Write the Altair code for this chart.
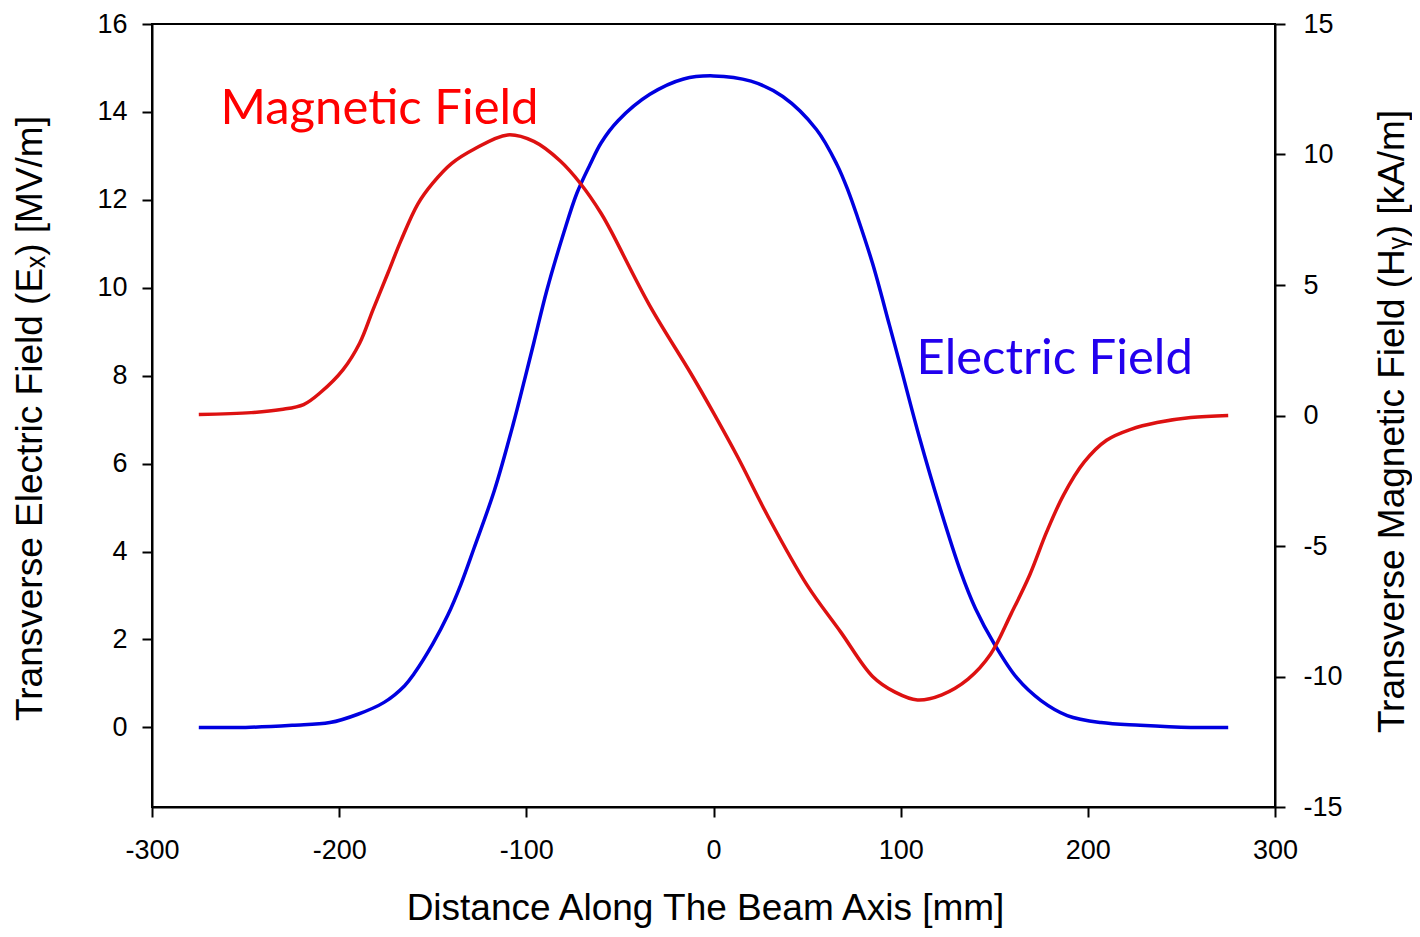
import altair as alt
import pandas as pd

# Electric field (left axis, MV/m)
e_x = [-275, -250, -225, -205, -190, -176, -165, -160, -150, -142, -135, -128, -117, -107, -101, -96,
       -89, -80, -73, -66, -60, -51, -34, -16, 0, 20, 37, 55, 66, 72, 77, 85, 94, 100, 110, 121, 132,
       140, 150, 162, 175, 189, 207, 228, 255, 275]
e_v = [0.0, 0.0, 0.05, 0.11, 0.3, 0.57, 0.95, 1.22, 1.9, 2.55, 3.25, 4.07, 5.4, 6.9, 7.9, 8.75,
       9.95, 11.25, 12.15, 12.8, 13.3, 13.8, 14.4, 14.75, 14.82, 14.7, 14.35, 13.6, 12.8, 12.2, 11.6,
       10.55, 9.15, 8.2, 6.6, 5.0, 3.55, 2.7, 1.9, 1.13, 0.61, 0.27, 0.11, 0.05, 0.0, 0.0]

# Magnetic field (right axis, kA/m)
h_x = [-275, -247, -231, -219, -210, -198, -189, -182, -174, -167, -158, -150, -140, -128, -110,
       -96, -82, -71, -60, -55, -34, -12, 0, 13, 29, 50, 68, 85, 97, 109, 122, 136, 148, 159,
       169, 178, 187, 198, 210, 223, 237, 255, 275]
h_v = [0.04, 0.11, 0.23, 0.42, 0.88, 1.75, 2.78, 4.04, 5.45, 6.7, 8.1, 8.9, 9.65, 10.2, 10.75,
       10.5, 9.76, 8.88, 7.74, 7.1, 4.2, 1.6, 0.1, -1.6, -3.85, -6.5, -8.3, -10.0, -10.6, -10.9,
       -10.7, -10.1, -9.15, -7.6, -6.1, -4.46, -3.05, -1.79, -0.95, -0.53, -0.27, -0.08, 0.0]

x_ticks = [-300, -200, -100, 0, 100, 200, 300]
e_ticks = [0, 2, 4, 6, 8, 10, 12, 14, 16]
h_ticks = [-15, -10, -5, 0, 5, 10, 15]

labels_text = ["Electric Field", "Magnetic Field"]
labels_x = [108.5, -263.4]
labels_e = [8.03]
labels_h = [11.17]

e_df = pd.DataFrame({"x": e_x, "v": e_v})
h_df = pd.DataFrame({"x": h_x, "v": h_v})
e_lab = pd.DataFrame({"x": [labels_x[0]], "v": labels_e, "t": [labels_text[0]]})
h_lab = pd.DataFrame({"x": [labels_x[1]], "v": labels_h, "t": [labels_text[1]]})

AXF = "Liberation Sans"
LBL = "'' + datum.value"

x_enc = alt.X("x:Q", scale=alt.Scale(domain=[-300, 300], nice=False, zero=False),
              axis=alt.Axis(values=x_ticks, title="Distance Along The Beam Axis [mm]",
                            labelPadding=20, titleY=112, titleBaseline="alphabetic",
                            titleX=553, labelExpr=LBL, labelFlush=False))

e_scale = alt.Scale(domain=[-1.81, 16], nice=False, zero=False)
h_scale = alt.Scale(domain=[-15, 15], nice=False, zero=False)

e_line = alt.Chart(e_df).mark_line(color="#0000E0", strokeWidth=3.5, interpolate="catmull-rom").encode(
    x=x_enc,
    y=alt.Y("v:Q", scale=e_scale,
            axis=alt.Axis(orient="left", values=e_ticks,
                          title="Transverse Electric Field (Eₓ) [MV/m]",
                          labelPadding=15, titleX=-122, titleY=394, titleAngle=270,
                          titleBaseline="middle", labelExpr=LBL, labelFlush=False)),
)
e_text = alt.Chart(e_lab).mark_text(align="left", baseline="alphabetic", font="Lato",
                                    fontSize=49, color="#2200EE").encode(
    x="x:Q", y=alt.Y("v:Q", scale=e_scale), text="t:N")

h_line = alt.Chart(h_df).mark_line(color="#DD1111", strokeWidth=3.5, interpolate="catmull-rom").encode(
    x=x_enc,
    y=alt.Y("v:Q", scale=h_scale,
            axis=alt.Axis(orient="right", values=h_ticks,
                          title="Transverse Magnetic Field (Hᵧ) [kA/m]",
                          labelPadding=18, titleX=117, titleY=397, titleAngle=270,
                          titleBaseline="middle", labelExpr=LBL, labelFlush=False)),
)
h_text = alt.Chart(h_lab).mark_text(align="left", baseline="alphabetic", font="Lato",
                                    fontSize=49, color="#FF0000").encode(
    x="x:Q", y=alt.Y("v:Q", scale=h_scale), text="t:N")

left = alt.layer(e_line, e_text)
right = alt.layer(h_line, h_text)

chart = alt.layer(left, right).resolve_scale(y="independent").properties(
    width=1123, height=783,
    padding={"left": 144, "top": 16, "right": 137, "bottom": 122},
    autosize=alt.AutoSizeParams(type="none"),
    background="white",
).configure_view(stroke="black", strokeWidth=2).configure_axis(
    grid=False, labelFont=AXF, labelFontSize=27, labelColor="black", labelOverlap=False,
    tickColor="black", tickSize=10, tickWidth=2, domainColor="black", domainWidth=2,
    titleFont=AXF, titleFontSize=37, titleFontWeight="normal", titleColor="black",
)

chart.save("out.html", embed_options={"renderer": "svg", "actions": False})
